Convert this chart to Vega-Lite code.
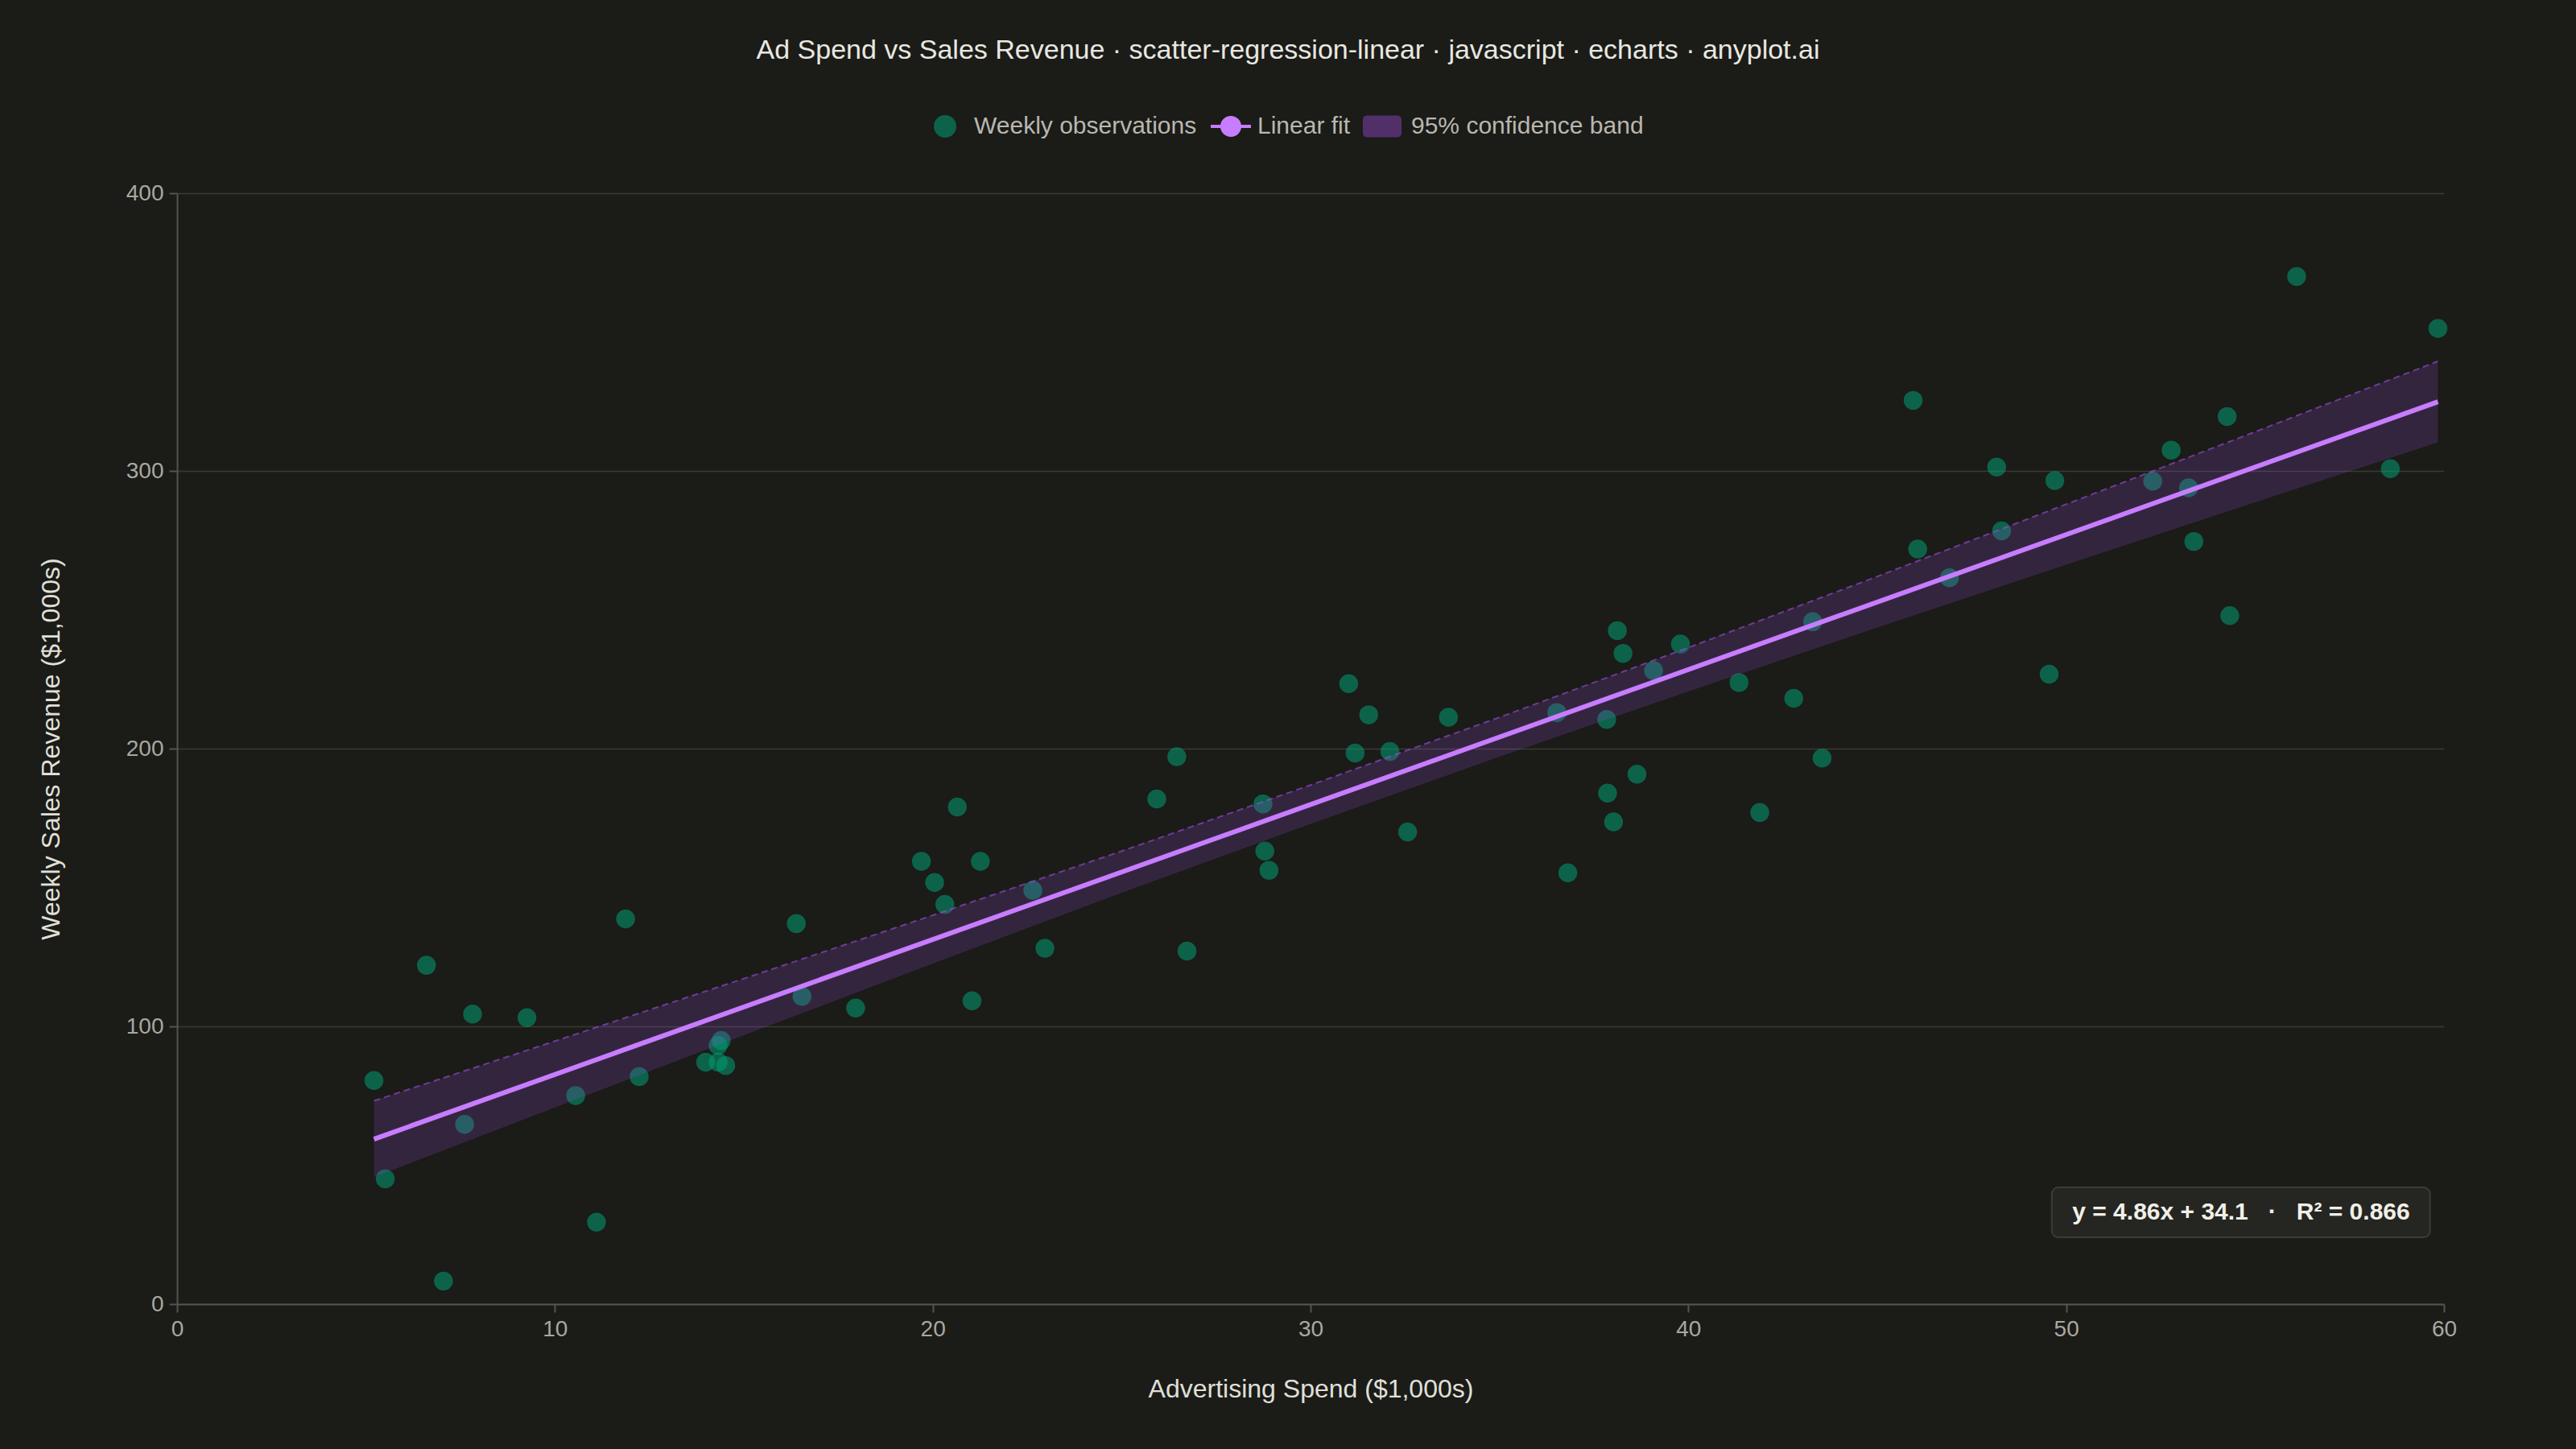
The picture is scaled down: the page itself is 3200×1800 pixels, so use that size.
{
  "$schema": "https://vega.github.io/schema/vega-lite/v6.json",
  "description": "Ad spend vs weekly sales revenue with linear fit and 95% confidence band",
  "width": 2816,
  "height": 1380,
  "autosize": "none",
  "padding": {"left": 220, "top": 240, "right": 164, "bottom": 180},
  "background": "#1b1b18",
  "title": {
    "text": "Ad Spend vs Sales Revenue · scatter-regression-linear · javascript · echarts · anyplot.ai",
    "font": "Liberation Sans",
    "fontSize": 34,
    "fontWeight": "normal",
    "color": "#e8e8e0",
    "anchor": "middle",
    "dx": -28,
    "offset": 50
  },
  "config": {
    "view": {"stroke": null},
    "axis": {
      "labelFont": "Liberation Sans",
      "labelFontSize": 28,
      "labelColor": "#a8a8a0",
      "labelFlush": false,
      "titleFont": "Liberation Sans",
      "titleFontSize": 32,
      "titleFontWeight": "normal",
      "titleColor": "#e0e0d8",
      "domainColor": "#55554f",
      "domainWidth": 2,
      "tickColor": "#55554f",
      "tickWidth": 2,
      "tickSize": 10,
      "labelPadding": 7,
      "gridColor": "#3a3a35",
      "gridWidth": 1.5
    },
    "legend": {
      "title": null,
      "orient": "none",
      "direction": "horizontal",
      "padding": 0,
      "labelFont": "Liberation Sans",
      "labelFontSize": 30,
      "labelColor": "#b8b8b0",
      "labelLimit": 800,
      "labelOffset": 11
    }
  },
  "resolve": {
    "scale": {"color": "independent"},
    "legend": {"color": "independent"}
  },
  "datasets": {
    "obs": [
      {"spend": 5.21, "revenue": 80.5},
      {"spend": 5.51, "revenue": 45.1},
      {"spend": 6.60, "revenue": 122.0},
      {"spend": 7.05, "revenue": 8.3},
      {"spend": 7.61, "revenue": 64.7},
      {"spend": 7.82, "revenue": 104.4},
      {"spend": 9.26, "revenue": 103.1},
      {"spend": 10.55, "revenue": 75.1},
      {"spend": 11.10, "revenue": 29.5},
      {"spend": 11.87, "revenue": 138.7},
      {"spend": 12.23, "revenue": 81.9},
      {"spend": 13.99, "revenue": 87.1},
      {"spend": 14.32, "revenue": 93.1},
      {"spend": 14.40, "revenue": 94.9},
      {"spend": 14.32, "revenue": 87.1},
      {"spend": 14.52, "revenue": 85.9},
      {"spend": 16.39, "revenue": 137.0},
      {"spend": 16.54, "revenue": 110.8},
      {"spend": 17.96, "revenue": 106.6},
      {"spend": 19.70, "revenue": 159.4},
      {"spend": 20.05, "revenue": 151.8},
      {"spend": 20.32, "revenue": 143.9},
      {"spend": 20.65, "revenue": 179.0},
      {"spend": 21.04, "revenue": 109.2},
      {"spend": 21.26, "revenue": 159.4},
      {"spend": 22.65, "revenue": 149.0},
      {"spend": 22.97, "revenue": 128.1},
      {"spend": 25.93, "revenue": 181.9},
      {"spend": 26.46, "revenue": 197.1},
      {"spend": 26.73, "revenue": 127.1},
      {"spend": 28.74, "revenue": 180.1},
      {"spend": 28.79, "revenue": 163.1},
      {"spend": 28.90, "revenue": 156.2},
      {"spend": 31.01, "revenue": 223.4},
      {"spend": 31.54, "revenue": 212.2},
      {"spend": 31.18, "revenue": 198.4},
      {"spend": 32.10, "revenue": 199.0},
      {"spend": 32.57, "revenue": 170.0},
      {"spend": 33.65, "revenue": 211.3},
      {"spend": 36.52, "revenue": 213.0},
      {"spend": 36.81, "revenue": 155.3},
      {"spend": 37.84, "revenue": 210.5},
      {"spend": 37.86, "revenue": 184.0},
      {"spend": 38.02, "revenue": 173.6},
      {"spend": 38.12, "revenue": 242.5},
      {"spend": 38.27, "revenue": 234.3},
      {"spend": 38.64, "revenue": 190.8},
      {"spend": 39.08, "revenue": 228.1},
      {"spend": 39.79, "revenue": 237.7},
      {"spend": 41.34, "revenue": 223.8},
      {"spend": 41.89, "revenue": 177.0},
      {"spend": 42.79, "revenue": 218.1},
      {"spend": 43.29, "revenue": 245.7},
      {"spend": 43.54, "revenue": 196.6},
      {"spend": 45.95, "revenue": 325.4},
      {"spend": 46.07, "revenue": 271.9},
      {"spend": 46.91, "revenue": 261.5},
      {"spend": 48.16, "revenue": 301.4},
      {"spend": 48.29, "revenue": 278.4},
      {"spend": 49.55, "revenue": 226.8},
      {"spend": 49.70, "revenue": 296.5},
      {"spend": 52.29, "revenue": 296.3},
      {"spend": 52.78, "revenue": 307.5},
      {"spend": 53.24, "revenue": 293.9},
      {"spend": 53.38, "revenue": 274.6},
      {"spend": 54.26, "revenue": 319.6},
      {"spend": 54.33, "revenue": 247.9},
      {"spend": 56.10, "revenue": 370.0},
      {"spend": 58.58, "revenue": 300.8},
      {"spend": 59.84, "revenue": 351.3}
    ],
    "fit": [
      {"spend": 5.21, "revenue": 59.4},
      {"spend": 59.84, "revenue": 324.9}
    ],
    "band": [
      {"spend": 5.21, "lo": 45.7, "hi": 73.2},
      {"spend": 10, "lo": 70.8, "hi": 94.7},
      {"spend": 15, "lo": 96.8, "hi": 117.2},
      {"spend": 20, "lo": 122.6, "hi": 140.0},
      {"spend": 25, "lo": 148.1, "hi": 163.1},
      {"spend": 30, "lo": 172.9, "hi": 186.9},
      {"spend": 35, "lo": 197.1, "hi": 211.3},
      {"spend": 40, "lo": 220.6, "hi": 236.4},
      {"spend": 45, "lo": 243.6, "hi": 262.0},
      {"spend": 50, "lo": 266.2, "hi": 288.0},
      {"spend": 55, "lo": 288.7, "hi": 314.1},
      {"spend": 59.84, "lo": 310.3, "hi": 339.5}
    ]
  },
  "layer": [
    {
      "data": {"name": "obs"},
      "mark": {"type": "point", "filled": true, "size": 550, "opacity": 0.55, "strokeWidth": 0},
      "encoding": {
        "x": {
          "field": "spend",
          "type": "quantitative",
          "scale": {"domain": [0, 60], "nice": false},
          "axis": {
            "title": "Advertising Spend ($1,000s)",
            "values": [0, 10, 20, 30, 40, 50, 60],
            "grid": false,
            "titlePadding": 45
          }
        },
        "y": {
          "field": "revenue",
          "type": "quantitative",
          "scale": {"domain": [0, 400], "nice": false},
          "axis": {
            "title": "Weekly Sales Revenue ($1,000s)",
            "values": [0, 100, 200, 300, 400],
            "grid": true,
            "titlePadding": 76
          }
        },
        "color": {
          "datum": "Weekly observations",
          "scale": {"range": ["#009E73"]},
          "legend": {
            "legendX": 939,
            "legendY": -98,
            "labelOffset": 21,
            "symbolType": "circle",
            "symbolSize": 784,
            "symbolOpacity": 0.55,
            "symbolStrokeWidth": 0
          }
        }
      }
    },
    {
      "data": {"name": "band"},
      "mark": {"type": "area", "opacity": 0.2},
      "encoding": {
        "x": {"field": "spend", "type": "quantitative"},
        "y": {"field": "lo", "type": "quantitative"},
        "y2": {"field": "hi"},
        "color": {
          "datum": "95% confidence band",
          "scale": {"range": ["#9d4edd"]},
          "legend": {
            "legendX": 1472,
            "legendY": -108,
            "symbolType": "M-0.76,-0.54L0.76,-0.54A0.2,0.2,0,0,1,0.96,-0.34L0.96,0.34A0.2,0.2,0,0,1,0.76,0.54L-0.76,0.54A0.2,0.2,0,0,1,-0.96,0.34L-0.96,-0.34A0.2,0.2,0,0,1,-0.76,-0.54Z",
            "symbolSize": 2500,
            "symbolOpacity": 0.42,
            "symbolStrokeWidth": 0
          }
        }
      }
    },
    {
      "data": {"name": "band"},
      "mark": {"type": "line", "color": "#9d4edd", "opacity": 0.6, "strokeWidth": 2, "strokeDash": [8, 5]},
      "encoding": {
        "x": {"field": "spend", "type": "quantitative"},
        "y": {"field": "hi", "type": "quantitative"}
      }
    },
    {
      "data": {"name": "fit"},
      "mark": {"type": "line", "strokeWidth": 6},
      "encoding": {
        "x": {"field": "spend", "type": "quantitative"},
        "y": {"field": "revenue", "type": "quantitative"},
        "color": {
          "datum": "Linear fit",
          "scale": {"range": ["#c77dff"]},
          "legend": {
            "legendX": 1282,
            "legendY": -110,
            "labelOffset": 6,
            "symbolType": "M-1,0L1,0M0.44,0A0.44,0.44,0,1,1,-0.44,0A0.44,0.44,0,1,1,0.44,0Z",
            "symbolSize": 2500,
            "symbolFillColor": "#c77dff",
            "symbolStrokeWidth": 4,
            "symbolOpacity": 1
          }
        }
      }
    },
    {
      "data": {"values": [{}]},
      "mark": {"type": "rect", "fill": "#252521", "stroke": "#3c3c37", "strokeWidth": 2, "cornerRadius": 8},
      "encoding": {
        "x": {"datum": 49.62},
        "x2": {"datum": 59.63},
        "y": {"datum": 24.06},
        "y2": {"datum": 42.03}
      }
    },
    {
      "data": {"values": [{"note": "y = 4.86x + 34.1\u00a0\u00a0\u00a0·\u00a0\u00a0\u00a0R² = 0.866"}]},
      "mark": {"type": "text", "font": "Liberation Sans", "fontSize": 30, "fontWeight": "bold", "color": "#f0f0e8", "align": "center", "baseline": "middle"},
      "encoding": {
        "x": {"datum": 54.63},
        "y": {"datum": 33.1},
        "text": {"field": "note"}
      }
    }
  ]
}
